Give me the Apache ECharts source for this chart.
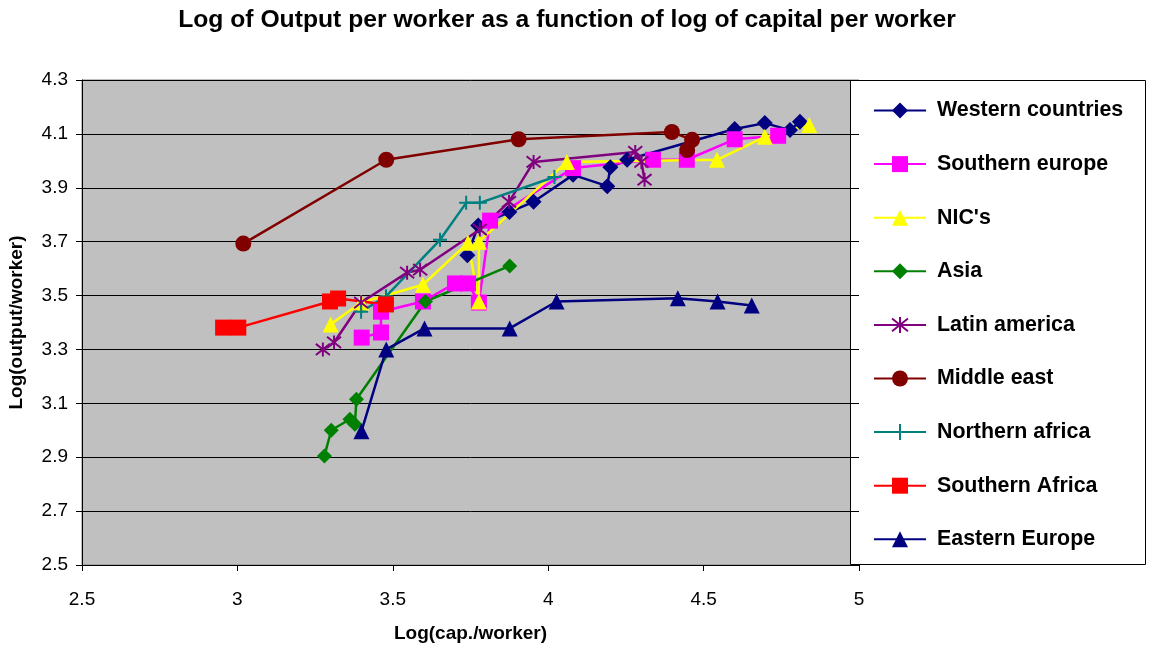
<!DOCTYPE html>
<html><head><meta charset="utf-8">
<script src="https://cdn.jsdelivr.net/npm/echarts@6/dist/echarts.min.js"></script>
<style>html,body{margin:0;padding:0;background:#fff}#c{width:1154px;height:648px}</style>
</head><body><div id="c"></div>
<script>
const seriesNames = ["Western countries","Southern europe","NIC's","Asia","Latin america","Middle east","Northern africa","Southern Africa","Eastern Europe"];
const xTicks = [2.5, 3, 3.5, 4, 4.5, 5];
const yTicks = [2.5, 2.7, 2.9, 3.1, 3.3, 3.5, 3.7, 3.9, 4.1, 4.3];

const westernCountries = [[3.74,3.65],[3.775,3.76],[3.875,3.81],[3.953,3.848],[4.08,3.948],[4.19,3.906],[4.20,3.976],[4.254,4.004],[4.60,4.118],[4.697,4.14],[4.778,4.114],[4.81,4.145]];
const southernEurope = [[3.40,3.344],[3.462,3.363],[3.462,3.44],[3.597,3.478],[3.70,3.545],[3.742,3.545],[3.777,3.474],[3.813,3.778],[4.08,3.973],[4.337,4.004],[4.446,4.004],[4.60,4.08],[4.74,4.093]];
const nics = [[3.30,3.393],[3.398,3.474],[3.597,3.54],[3.742,3.696],[3.777,3.478],[3.777,3.70],[4.06,3.996],[4.543,4.004],[4.697,4.089],[4.84,4.133]];
const asia = [[3.28,2.905],[3.302,3.0],[3.362,3.041],[3.378,3.022],[3.383,3.115],[3.605,3.478],[3.876,3.61]];
const latinAmerica = [[3.275,3.30],[3.311,3.326],[3.398,3.474],[3.546,3.585],[3.588,3.596],[3.78,3.745],[3.874,3.848],[3.953,3.996],[4.28,4.033],[4.30,3.996],[4.31,3.93]];
const middleEast = [[3.019,3.693],[3.479,4.004],[3.905,4.08],[4.398,4.107],[4.463,4.078],[4.447,4.04]];
const northernAfrica = [[3.398,3.44],[3.478,3.497],[3.652,3.707],[3.736,3.844],[3.78,3.844],[4.02,3.94]];
const southernAfrica = [[2.954,3.381],[3.003,3.381],[3.298,3.478],[3.324,3.489],[3.478,3.467]];
const easternEurope = [[3.399,2.996],[3.479,3.30],[3.602,3.378],[3.876,3.378],[4.027,3.478],[4.417,3.49],[4.545,3.478],[4.655,3.463]];

const seriesData = [westernCountries, southernEurope, nics, asia, latinAmerica, middleEast, northernAfrica, southernAfrica, easternEurope];
const colors = ['#000080','#FF00FF','#FFFF00','#008000','#800080','#800000','#008080','#FF0000','#000080'];
const ASTER = 'path://M1,1L9,9M9,1L1,9M5,0L5,10';
const PLUS = 'path://M5,0L5,10M0,5L10,5';
const symbols = ['diamond','rect','triangle','diamond',ASTER,'circle',PLUS,'rect','triangle'];
const sizes = [16,16,16,15,14,16,14,16,16];

const FONT = '"Liberation Sans", Arial, sans-serif';
const chart = echarts.init(document.getElementById('c'), null, {renderer:'canvas'});

const series = seriesNames.map((name, i) => {
  const isPath = symbols[i].startsWith('path://');
  return {
    name: name,
    type: 'line',
    data: seriesData[i],
    symbol: symbols[i],
    symbolSize: sizes[i],
    showAllSymbol: true,
    animation: false,
    lineStyle: {color: colors[i], width: 2.5},
    itemStyle: isPath ? {color: colors[i], borderColor: colors[i], borderWidth: 2} : {color: colors[i], borderWidth: 0},
    emphasis: {disabled: true}
  };
});

chart.setOption({
  animation: false,
  backgroundColor: '#ffffff',
  title: {
    text: 'Log of Output per worker as a function of log of capital per worker',
    left: 562, top: 3, textAlign: 'center',
    textStyle: {fontFamily: FONT, fontSize: 24.7, fontWeight: 'bold', color: '#000'}
  },
  graphic: [{
    type: 'rect', z: 0, zlevel: 0,
    shape: {x: 850.5, y: 80.5, width: 295, height: 484},
    style: {fill: '#ffffff', stroke: '#000000', lineWidth: 1}
  }],
  grid: {left: 82, right: 295, top: 80, bottom: 83, show: true, backgroundColor: '#C0C0C0', borderColor: '#808080', borderWidth: 1, containLabel: false, outerBoundsMode: 'none'},
  xAxis: {
    type: 'value', min: xTicks[0], max: xTicks[xTicks.length-1], interval: 0.5,
    name: 'Log(cap./worker)', nameLocation: 'middle', nameGap: 59,
    nameTextStyle: {fontFamily: FONT, fontSize: 19, fontWeight: 'bold', color: '#000'},
    axisLine: {show: true, onZero: false, lineStyle: {color: '#000', width: 1}},
    axisTick: {show: true, inside: false, length: 6, lineStyle: {color: '#000'}},
    axisLabel: {fontFamily: FONT, fontSize: 19, color: '#000', margin: 25},
    splitLine: {show: false}
  },
  yAxis: {
    type: 'value', min: yTicks[0], max: yTicks[yTicks.length-1], interval: 0.2,
    name: 'Log(output/worker)', nameLocation: 'middle', nameGap: 56,
    nameTextStyle: {fontFamily: FONT, fontSize: 19, fontWeight: 'bold', color: '#000'},
    axisLine: {show: true, onZero: false, lineStyle: {color: '#000', width: 1}},
    axisTick: {show: true, inside: false, length: 6, lineStyle: {color: '#000'}},
    axisLabel: {fontFamily: FONT, fontSize: 19, color: '#000', margin: 14, formatter: v => (Math.round(v*10)/10).toString()},
    splitLine: {show: true, lineStyle: {color: '#000', width: 1}}
  },
  legend: {
    orient: 'vertical', left: 873, top: 100, padding: 0,
    itemWidth: 52, itemHeight: 20, itemGap: 32.6,
    data: seriesNames,
    textStyle: {fontFamily: FONT, fontSize: 21.4, fontWeight: 'bold', color: '#000', lineHeight: 20, padding: [0,0,0,6]},
    selectedMode: false, z: 10
  },
  series: series
});
</script></body></html>
